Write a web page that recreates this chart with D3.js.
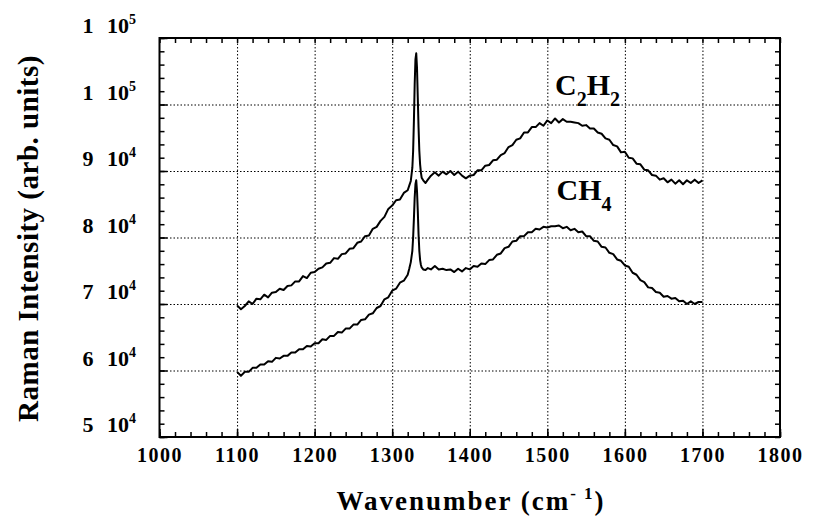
<!DOCTYPE html>
<html>
<head>
<meta charset="utf-8">
<script src="https://cdn.jsdelivr.net/npm/d3@7"></script>
<style>
    body { margin: 0; background: #fff; }
    svg { display: block; font-family: "Liberation Serif", "Times New Roman", serif; font-weight: bold; }
    .grid line { stroke: #000; stroke-width: 1; stroke-dasharray: 1.5 2; }
    .grid path, .ticks path { display: none; }
    .ticks line { stroke: #000; stroke-width: 1.5; }
    .frame { fill: none; stroke: #000; stroke-width: 2; }
    .curve { fill: none; stroke: #000; stroke-width: 2; stroke-linejoin: round; }
</style>
</head>
<body>
<div id="wrapper" class="wrapper"></div>
<script>
// wavenumbers (cm-1) shared by both spectra
const wavenumbers = [
    1100, 1105, 1110, 1115, 1120, 1125, 1130, 1135, 1140, 1145,
    1150, 1155, 1160, 1165, 1170, 1175, 1180, 1185, 1190, 1195,
    1200, 1205, 1210, 1215, 1220, 1225, 1230, 1235, 1240, 1245,
    1250, 1255, 1260, 1265, 1270, 1275, 1280, 1285, 1290, 1295,
    1300, 1305, 1310, 1315, 1320,
    1322, 1324, 1326, 1327, 1328, 1329, 1330, 1331, 1332, 1333,
    1334, 1335, 1336, 1337, 1338, 1340, 1343, 1346,
    1350, 1355, 1360, 1365, 1370, 1375, 1380, 1385, 1390, 1395,
    1400, 1405, 1410, 1415, 1420, 1425, 1430, 1435, 1440, 1445,
    1450, 1455, 1460, 1465, 1470, 1475, 1480, 1485, 1490, 1495,
    1500, 1505, 1510, 1515, 1520, 1525, 1530, 1535, 1540, 1545,
    1550, 1555, 1560, 1565, 1570, 1575, 1580, 1585, 1590, 1595,
    1600, 1605, 1610, 1615, 1620, 1625, 1630, 1635, 1640, 1645,
    1650, 1655, 1660, 1665, 1670, 1675, 1680, 1685, 1690, 1695,
    1700
]

const c2h2 = [
    69800, 69200, 69700, 70400, 70000, 70800, 70700, 71400, 71000, 71700,
    71800, 72300, 72100, 72700, 72800, 73400, 73400, 74200, 73900, 74700,
    74800, 75300, 75500, 76100, 76200, 76900, 76800, 77500, 77600, 78300,
    78400, 79200, 79400, 80200, 80300, 81300, 81600, 82500, 83100, 84300,
    84800, 85600, 85700, 86700, 87100,
    87800, 88500, 90500, 93000, 97500, 103000, 106800, 107700, 105500, 101000,
    96500, 93000, 91000, 89800, 89000, 88600, 88200, 88700,
    89300, 89800, 89300, 89900, 89500, 90000, 89400, 89900, 89300, 88900,
    89300, 89400, 90100, 90100, 90800, 90900, 91600, 91700, 92400, 92700,
    93600, 93900, 94700, 94900, 95800, 95800, 96600, 96600, 97200, 96800,
    97600, 97200, 97900, 97300, 97800, 97400, 97400, 97300, 97200, 96800,
    96900, 96400, 96400, 95800, 95600, 94900, 94700, 93900, 93700, 92800,
    92900, 92000, 91900, 91100, 91000, 90200, 90100, 89400, 89300, 88700,
    88900, 88300, 88700, 88100, 88600, 88000, 88600, 88200, 88700, 88200,
    88600
]

const ch4 = [
    59800, 59200, 59800, 59800, 60400, 60400, 60900, 60900, 61400, 61300,
    61900, 61800, 62200, 62200, 62700, 62700, 63200, 63200, 63700, 63600,
    64100, 64100, 64700, 64600, 65200, 65200, 65800, 65700, 66300, 66300,
    66900, 66900, 67600, 67700, 68400, 68600, 69400, 69700, 70700, 71000,
    72000, 72300, 73200, 73500, 74400,
    75300, 76300, 78000, 80000, 82800, 86000, 88000, 88600, 87000, 84000,
    80500, 78000, 76600, 75900, 75500, 75200, 75100, 75400,
    75200, 75700, 75200, 75300, 75100, 75200, 74800, 75300, 74900, 75400,
    75200, 75700, 75600, 76100, 76000, 76600, 76700, 77400, 77600, 78400,
    78600, 79400, 79500, 80200, 80200, 80800, 80800, 81300, 81200, 81600,
    81500, 81700, 81700, 81800, 81400, 81600, 81100, 81300, 80800, 80900,
    80200, 80200, 79500, 79400, 78600, 78500, 77700, 77500, 76700, 76500,
    75800, 75600, 74700, 74400, 73600, 73300, 72500, 72400, 71800, 71700,
    71100, 71200, 70800, 70900, 70400, 70500, 70000, 70400, 70000, 70300,
    70300
]

const seriesNames = ["C2H2", "CH4"]
const seriesLabelAt = [[1510, 101400], [1512, 85600]]

const xTickValues = [1000, 1100, 1200, 1300, 1400, 1500, 1600, 1700, 1800]
const xTickLabels = ["1000", "1100", "1200", "1300", "1400", "1500", "1600", "1700", "1800"]
const yTickValues = [50000, 60000, 70000, 80000, 90000, 100000, 110000]
const yTickMantissa = ["5", "6", "7", "8", "9", "1", "1"]
const yTickExponent = ["4", "4", "4", "4", "4", "5", "5"]

draw()

function draw() {
    let dimensions = {
        width: 813,
        height: 520,
        margin: {
            top: 38,
            right: 33,
            bottom: 83,
            left: 159.5,
        }
    }
    dimensions.boundedWidth = dimensions.width - dimensions.margin.left - dimensions.margin.right
    dimensions.boundedHeight = dimensions.height - dimensions.margin.top - dimensions.margin.bottom

    const wrapper = d3.select("#wrapper")
        .append("svg")
            .attr("width", dimensions.width)
            .attr("height", dimensions.height)

    const bounds = wrapper.append("g")
        .attr("transform", `translate(${dimensions.margin.left}, ${dimensions.margin.top})`)

    const xScale = d3.scaleLinear()
        .domain([1000, 1800])
        .range([0, dimensions.boundedWidth])

    const yScale = d3.scaleLinear()
        .domain([50000, 110000])
        .range([dimensions.boundedHeight, 0])

    // dotted grid
    bounds.append("g")
        .attr("class", "grid")
        .attr("transform", `translate(0, ${dimensions.boundedHeight})`)
        .call(d3.axisBottom(xScale)
            .tickValues(xTickValues.slice(1, -1))
            .tickSize(-dimensions.boundedHeight)
            .tickFormat(""))

    bounds.append("g")
        .attr("class", "grid")
        .call(d3.axisLeft(yScale)
            .tickValues(yTickValues.slice(1, -1))
            .tickSize(-dimensions.boundedWidth)
            .tickFormat(""))

    // inward ticks on all four sides
    const xMinor = d3.range(1000, 1801, 20)
    const yMinor = d3.range(50000, 110001, 2000)

    const tickSets = [
        [d3.axisBottom(xScale), xMinor, `translate(0, ${dimensions.boundedHeight})`],
        [d3.axisTop(xScale), xMinor, "translate(0, 0)"],
        [d3.axisLeft(yScale), yMinor, "translate(0, 0)"],
        [d3.axisRight(yScale), yMinor, `translate(${dimensions.boundedWidth}, 0)`],
    ]
    tickSets.forEach(([axis, values, transform]) => {
        bounds.append("g")
            .attr("class", "ticks")
            .attr("transform", transform)
            .call(axis.tickValues(values).tickSize(-5).tickFormat(""))
    })

    // x tick labels
    const xAxis = bounds.append("g")
        .attr("class", "ticks")
        .attr("transform", `translate(0, ${dimensions.boundedHeight})`)
        .call(d3.axisBottom(xScale)
            .tickValues(xTickValues)
            .tickSize(-8)
            .tickFormat((d, i) => xTickLabels[i]))

    xAxis.selectAll("text")
        .attr("y", 25)
        .attr("dy", null)
        .attr("fill", "#000")
        .style("font-size", "20px")
        .style("letter-spacing", "1.5px")
        .style("font-family", "Liberation Serif")
        .style("font-weight", "bold")

    bounds.append("g")
        .attr("class", "ticks")
        .call(d3.axisLeft(yScale)
            .tickValues(yTickValues)
            .tickSize(-8)
            .tickFormat(""))

    // y tick labels, "m 10^e" style
    const yLabels = bounds.append("g")
        .selectAll("g")
        .data(yTickValues)
        .join("g")
            .attr("transform", d => `translate(0, ${yScale(d) - 5})`)
            .style("font-size", "22px")

    yLabels.append("text")
        .attr("x", -66)
        .attr("text-anchor", "end")
        .text((d, i) => yTickMantissa[i])

    const tenText = yLabels.append("text")
        .attr("x", -52.5)
    tenText.append("tspan")
        .text("10")
    tenText.append("tspan")
        .attr("dy", -9)
        .style("font-size", "14px")
        .text((d, i) => yTickExponent[i])

    // spectra
    const lineGenerator = d3.line()
        .x((d, i) => xScale(wavenumbers[i]))
        .y(d => yScale(d))

    ;[c2h2, ch4].forEach(values => {
        bounds.append("path")
            .attr("class", "curve")
            .attr("d", lineGenerator(values))
    })

    // series labels with subscripts
    seriesNames.forEach((name, i) => {
        const label = bounds.append("text")
            .attr("x", xScale(seriesLabelAt[i][0]))
            .attr("y", yScale(seriesLabelAt[i][1]))
            .style("font-size", "30px")
        const parts = name.match(/[A-Z]+|\d+/g)
        let lowered = false
        parts.forEach(part => {
            const isSub = /\d/.test(part)
            const span = label.append("tspan").text(part)
            if (isSub) {
                span.attr("dy", 11).style("font-size", "20px")
                lowered = true
            } else if (lowered) {
                span.attr("dy", -11)
                lowered = false
            }
        })
    })

    // frame
    bounds.append("rect")
        .attr("class", "frame")
        .attr("width", dimensions.boundedWidth)
        .attr("height", dimensions.boundedHeight)

    // axis titles
    const xTitle = wrapper.append("text")
        .attr("x", 471)
        .attr("y", 510)
        .attr("text-anchor", "middle")
        .style("font-size", "27px")
        .style("letter-spacing", "2px")
    xTitle.append("tspan").text("Wavenumber (cm")
    xTitle.append("tspan").attr("dy", -11).style("font-size", "17px").text("- 1")
    xTitle.append("tspan").attr("dy", 11).text(")")

    wrapper.append("text")
        .attr("transform", "translate(38, 238.5) rotate(-90)")
        .attr("text-anchor", "middle")
        .style("font-size", "29px")
        .style("letter-spacing", "0.5px")
        .text("Raman Intensity (arb. units)")
}
</script>
</body>
</html>
